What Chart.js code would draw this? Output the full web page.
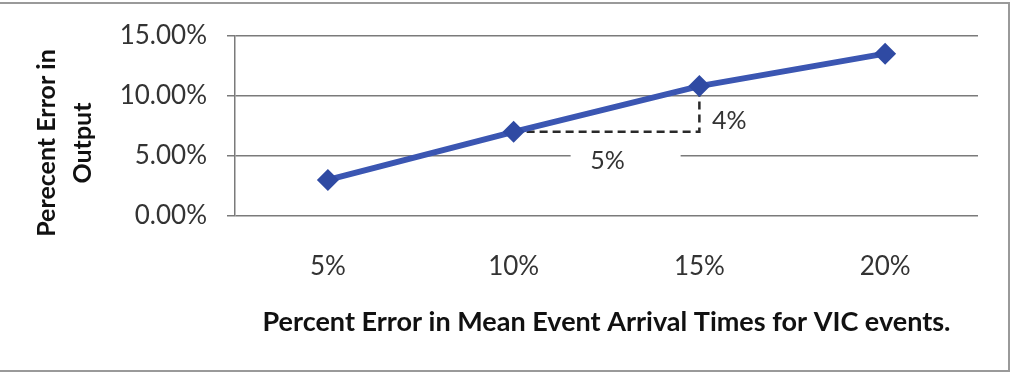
<!DOCTYPE html>
<html lang="en">
  <head>
    <meta charset="UTF-8" />
    <title>Percent Error in Output</title>
    <script src="https://cdn.jsdelivr.net/npm/chart.js"></script>
    <style>
      html, body {
        margin: 0;
        padding: 0;
        background: #fff;
      }
      #wrap {
        position: relative;
        width: 1024px;
        height: 374px;
      }
    </style>
  </head>
  <body>
    <div id="wrap"><canvas id="error-chart"></canvas></div>
    <script>
      // datos
      const categories = ['5%', '10%', '15%', '20%']
      const outputError = [0.03, 0.07, 0.108, 0.135]
      const yTickValues = [0, 0.05, 0.1, 0.15]
      const yTitleLines = ['Perecent Error in', 'Output']
      const xTitle = 'Percent Error in Mean Event Arrival Times for VIC events.'
      // triangulo de pendiente entre 10% y 15%
      const slopeFrom = 1
      const slopeTo = 2
      const slopeLabels = ['5%', '4%']

      const FONT = 'Lato, "Open Sans", sans-serif'
      const GRID = '#7a7a7a'
      const TEXT = '#333'

      const extras = {
        id: 'extras',
        beforeDatasetsDraw(chart) {
          const { ctx, scales } = chart
          const x = scales.x
          const y = scales.y
          const x0 = x.getPixelForValue(slopeFrom)
          const x1 = x.getPixelForValue(slopeTo)
          const yLow = y.getPixelForValue(outputError[slopeFrom])
          const yHigh = y.getPixelForValue(outputError[slopeTo])

          ctx.save()
          // caja blanca del texto "5%" que corta la grilla
          const runY = y.getPixelForValue(0.05)
          ctx.fillStyle = '#fff'
          ctx.fillRect(x0 + 57, runY - 14, 110, 30)

          ctx.strokeStyle = '#2a2a2a'
          ctx.lineWidth = 2.5
          ctx.setLineDash([8, 5])
          ctx.beginPath()
          ctx.moveTo(x0, yLow)
          ctx.lineTo(x1, yLow)
          ctx.lineTo(x1, yHigh)
          ctx.stroke()
          ctx.setLineDash([])

          ctx.fillStyle = TEXT
          ctx.font = '25px ' + FONT
          ctx.textAlign = 'center'
          ctx.textBaseline = 'middle'
          ctx.fillText(slopeLabels[0], x0 + 94, runY + 5)
          ctx.fillText(slopeLabels[1], x1 + 30, (yLow + yHigh) / 2 + 12)
          ctx.restore()
        },
        afterDraw(chart) {
          const { ctx } = chart
          ctx.save()
          // marco exterior
          ctx.strokeStyle = '#9a9a9a'
          ctx.lineWidth = 2
          ctx.beginPath()
          ctx.moveTo(0, 3)
          ctx.lineTo(1009, 3)
          ctx.lineTo(1009, 371)
          ctx.lineTo(0, 371)
          ctx.stroke()

          // titulo del eje y
          ctx.fillStyle = '#111'
          ctx.font = 'bold 25px ' + FONT
          ctx.textAlign = 'center'
          ctx.textBaseline = 'middle'
          yTitleLines.forEach((line, i) => {
            ctx.save()
            ctx.translate(47 + i * 36, 143)
            ctx.rotate(-Math.PI / 2)
            ctx.fillText(line, 0, 0)
            ctx.restore()
          })
          ctx.restore()
        },
      }

      new Chart(document.getElementById('error-chart'), {
        type: 'line',
        data: {
          labels: categories,
          datasets: [
            {
              data: outputError,
              borderColor: '#3b56b2',
              backgroundColor: '#2f4aa3',
              borderWidth: 6,
              pointStyle: 'rectRot',
              pointRadius: 11,
              pointBorderWidth: 0,
              tension: 0,
              fill: false,
            },
          ],
        },
        options: {
          responsive: true,
          maintainAspectRatio: false,
          animation: false,
          layout: { padding: { left: 0, right: 46, top: 33, bottom: 0 } },
          plugins: {
            legend: { display: false },
            tooltip: { enabled: false },
          },
          scales: {
            x: {
              offset: true,
              grid: { display: false, drawTicks: false },
              border: { display: false },
              ticks: {
                color: TEXT,
                padding: 35,
                font: { family: FONT, size: 26 },
                maxRotation: 0,
              },
              title: {
                display: true,
                text: xTitle,
                color: '#111',
                font: { family: FONT, size: 27, weight: 'bold' },
                padding: { top: 0, bottom: 36 },
              },
              afterFit(scale) {
                scale.height = 158
              },
            },
            y: {
              min: 0,
              max: 0.15,
              afterBuildTicks(scale) {
                scale.ticks = yTickValues.map((v) => ({ value: v }))
              },
              grid: {
                color: GRID,
                lineWidth: 1.5,
                tickLength: 8,
              },
              border: { display: true, color: GRID, width: 1.5 },
              ticks: {
                color: TEXT,
                padding: 20,
                font: { family: FONT, size: 26 },
                callback: (v) => (v * 100).toFixed(2) + '%',
              },
              afterFit(scale) {
                scale.width = 235
              },
            },
          },
        },
        plugins: [extras],
      })
    </script>
  </body>
</html>
